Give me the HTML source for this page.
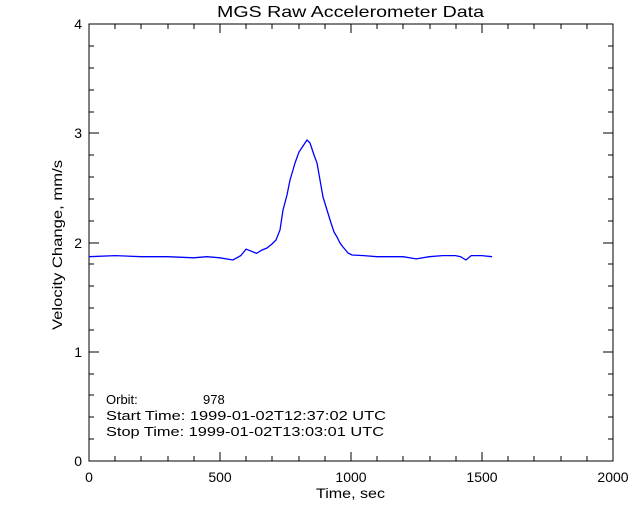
<!DOCTYPE html>
<html><head><meta charset="utf-8"><style>
body{margin:0;background:#fff}
svg{display:block}
text{font-family:"Liberation Sans",sans-serif;fill:#000}
</style></head><body>
<svg width="640" height="512" xmlns="http://www.w3.org/2000/svg">
<rect width="640" height="512" fill="#fff"/>
<rect x="89" y="24" width="524" height="437" fill="none" stroke="#000" stroke-width="1"/>
<g stroke="#000" stroke-width="1">
<path d="M220,461v-9M351,461v-9M482,461v-9M220,24v9M351,24v9M482,24v9"/>
<path d="M115,461v-5M141,461v-5M168,461v-5M194,461v-5M246,461v-5M272,461v-5M299,461v-5M325,461v-5M377,461v-5M403,461v-5M430,461v-5M456,461v-5M508,461v-5M534,461v-5M561,461v-5M587,461v-5
M115,24v5M141,24v5M168,24v5M194,24v5M246,24v5M272,24v5M299,24v5M325,24v5M377,24v5M403,24v5M430,24v5M456,24v5M508,24v5M534,24v5M561,24v5M587,24v5"/>
<path d="M89,352h10M89,243h10M89,133h10M613,352h-10M613,243h-10M613,133h-10"/>
<path d="M89,439h5M89,417h5M89,395h5M89,374h5M89,330h5M89,308h5M89,286h5M89,264h5M89,221h5M89,199h5M89,177h5M89,155h5M89,112h5M89,90h5M89,68h5M89,46h5
M613,439h-5M613,417h-5M613,395h-5M613,374h-5M613,330h-5M613,308h-5M613,286h-5M613,264h-5M613,221h-5M613,199h-5M613,177h-5M613,155h-5M613,112h-5M613,90h-5M613,68h-5M613,46h-5"/>
</g>
<g font-size="14" text-anchor="middle">
<text x="89" y="482">0</text><text x="220" y="482">500</text><text x="351" y="482">1000</text><text x="482" y="482">1500</text><text x="613" y="482">2000</text>
</g>
<text x="316" y="498" font-size="14" textLength="69" lengthAdjust="spacingAndGlyphs">Time, sec</text>
<g font-size="14" text-anchor="end">
<text x="82" y="466">0</text><text x="82" y="357">1</text><text x="82" y="248">2</text><text x="82" y="138">3</text><text x="82" y="29">4</text>
</g>
<text x="62" y="330" font-size="14" textLength="170" lengthAdjust="spacingAndGlyphs" transform="rotate(-90 62 330)">Velocity Change, mm/s</text>
<text x="217" y="17" font-size="16" textLength="267" lengthAdjust="spacingAndGlyphs">MGS Raw Accelerometer Data</text>
<g font-size="13">
<text x="106" y="404">Orbit:</text><text x="203" y="404">978</text>
<text x="106" y="420" textLength="280" lengthAdjust="spacingAndGlyphs">Start Time: 1999-01-02T12:37:02 UTC</text>
<text x="106" y="436" textLength="278" lengthAdjust="spacingAndGlyphs">Stop Time: 1999-01-02T13:03:01 UTC</text>
</g>
<polyline fill="none" stroke="#0000ff" stroke-width="1.3" points="89,256.7 115.2,255.6 141.4,256.7 167.5,256.7 193.7,257.8 206.8,256.7 219.9,257.8 233,260 240.8,255.6 246.1,249.1 251.3,251.2 256.5,253.4 261.8,250.1 267,248 272,244 276,240 280,230 283,210 287,195 290,180 293,170 295,163 299,152 303,146 307,140 310,143 314,155 317,163 320,180 323,197 327,210 331,223 334,232 337,237 340,243 343,247 348,253 352,255 363.8,255.6 376.9,256.7 403.1,256.7 416.2,258.9 429.3,256.7 442.4,255.6 455.5,255.6 460.7,256.7 465.9,260 471.2,255.6 481.6,255.6 492.1,256.7"/>
</svg>
</body></html>
